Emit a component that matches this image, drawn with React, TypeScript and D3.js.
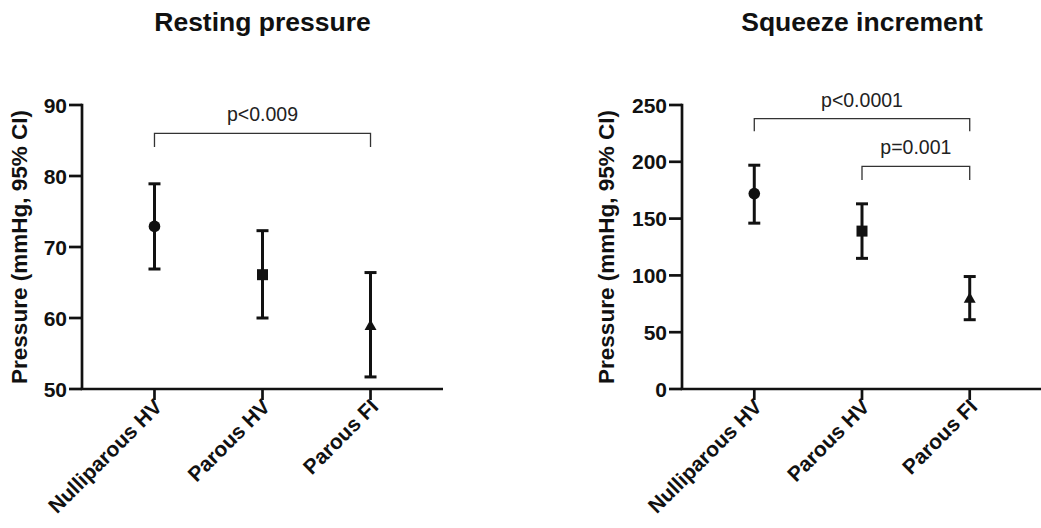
import React from "react";
import * as d3 from "d3";

const categories = ["Nulliparous HV", "Parous HV", "Parous FI"];
const markerShapes = ["circle", "square", "triangle"];

const restingMean = [72.9, 66.1, 58.8];
const restingLow = [66.9, 60.0, 51.7];
const restingHigh = [78.9, 72.3, 66.4];
const restingTicks = [50, 60, 70, 80, 90];

const squeezeMean = [172, 139, 79];
const squeezeLow = [146, 115, 61];
const squeezeHigh = [197, 163, 99];
const squeezeTicks = [0, 50, 100, 150, 200, 250];

const restingBrackets = [{ from: 0, to: 2, level: 86, tip: 84.1, label: "p<0.009" }];
const squeezeBrackets = [
  { from: 0, to: 2, level: 238, tip: 227, label: "p<0.0001" },
  { from: 1, to: 2, level: 196, tip: 184, label: "p=0.001" },
];

const FONT = "'Liberation Sans', Arial, Helvetica, sans-serif";

type PanelProps = {
  title: string;
  left: number;
  right: number;
  domain: [number, number];
  ticks: number[];
  mean: number[];
  low: number[];
  high: number[];
  brackets: { from: number; to: number; level: number; tip: number; label: string }[];
  yLabelX: number;
};

function Marker({ shape, cx, cy }: { shape: string; cx: number; cy: number }) {
  if (shape === "circle") return <circle cx={cx} cy={cy} r={5.8} fill="#111" />;
  if (shape === "square") return <rect x={cx - 5.5} y={cy - 5.5} width={11} height={11} fill="#111" />;
  const sym = d3.symbol().type(d3.symbolTriangle).size(62)();
  return <path d={sym || ""} transform={`translate(${cx},${cy})`} fill="#111" />;
}

function Panel(p: PanelProps) {
  const top = 105;
  const bottom = 389;
  const x = d3.scalePoint<string>().domain(categories).range([p.left, p.right]).padding(0.671);
  const y = d3.scaleLinear().domain(p.domain).range([bottom, top]);
  const axisW = 2.7;
  const cap = 6;
  const midX = x(categories[1]) as number;
  return (
    <g>
      <text
        x={midX}
        y={31}
        textAnchor="middle"
        fontFamily={FONT}
        fontWeight="bold"
        fontSize={26.5}
        fill="#111"
      >
        {p.title}
      </text>
      {/* y axis title */}
      <text
        transform={`translate(${p.yLabelX},${(top + bottom) / 2}) rotate(-90)`}
        textAnchor="middle"
        fontFamily={FONT}
        fontWeight="bold"
        fontSize={22.5}
        fill="#111"
      >
        Pressure (mmHg, 95% CI)
      </text>
      {/* y axis */}
      <line x1={p.left} x2={p.left} y1={top - axisW / 2} y2={bottom} stroke="#111" strokeWidth={axisW} />
      {p.ticks.map((t) => (
        <g key={t}>
          <line x1={p.left - 13} x2={p.left} y1={y(t)} y2={y(t)} stroke="#111" strokeWidth={axisW} />
          <text
            x={p.left - 15}
            y={y(t)}
            dy="0.36em"
            textAnchor="end"
            fontFamily={FONT}
            fontWeight="bold"
            fontSize={21}
            fill="#111"
          >
            {t}
          </text>
        </g>
      ))}
      {/* x axis */}
      <line x1={p.left - axisW / 2} x2={p.right} y1={bottom} y2={bottom} stroke="#111" strokeWidth={axisW} />
      {categories.map((c) => (
        <g key={c}>
          <line x1={x(c)} x2={x(c)} y1={bottom} y2={bottom + 11} stroke="#111" strokeWidth={axisW} />
          <text
            transform={`translate(${(x(c) as number) + 9},${bottom + 19}) rotate(-45)`}
            textAnchor="end"
            fontFamily={FONT}
            fontWeight="bold"
            fontSize={21}
            fill="#111"
          >
            {c}
          </text>
        </g>
      ))}
      {/* error bars */}
      {categories.map((c, i) => {
        const cx = x(c) as number;
        return (
          <g key={"eb" + c}>
            <line x1={cx} x2={cx} y1={y(p.low[i])} y2={y(p.high[i])} stroke="#111" strokeWidth={3} />
            <line x1={cx - cap} x2={cx + cap} y1={y(p.low[i])} y2={y(p.low[i])} stroke="#111" strokeWidth={3} />
            <line x1={cx - cap} x2={cx + cap} y1={y(p.high[i])} y2={y(p.high[i])} stroke="#111" strokeWidth={3} />
            <Marker shape={markerShapes[i]} cx={cx} cy={y(p.mean[i])} />
          </g>
        );
      })}
      {/* brackets */}
      {p.brackets.map((b) => {
        const x1 = x(categories[b.from]) as number;
        const x2 = x(categories[b.to]) as number;
        const path = `M${x1},${y(b.tip)}V${y(b.level)}H${x2}V${y(b.tip)}`;
        return (
          <g key={b.label}>
            <path d={path} fill="none" stroke="#333" strokeWidth={1.3} />
            <text
              x={(x1 + x2) / 2}
              y={y(b.level) - 12}
              textAnchor="middle"
              fontFamily={FONT}
              fontSize={19.5}
              fill="#222"
            >
              {b.label}
            </text>
          </g>
        );
      })}
    </g>
  );
}

export default function App() {
  return (
    <svg
      width={1041}
      height={528}
      style={{ position: "absolute", left: 0, top: 0, background: "#fff" }}
    >
      <rect width={1041} height={528} fill="#fff" />
      <Panel
        title="Resting pressure"
        left={82}
        right={443}
        domain={[50, 90]}
        ticks={restingTicks}
        mean={restingMean}
        low={restingLow}
        high={restingHigh}
        brackets={restingBrackets}
        yLabelX={27}
      />
      <Panel
        title="Squeeze increment"
        left={682}
        right={1042}
        domain={[0, 250]}
        ticks={squeezeTicks}
        mean={squeezeMean}
        low={squeezeLow}
        high={squeezeHigh}
        brackets={squeezeBrackets}
        yLabelX={614}
      />
    </svg>
  );
}
